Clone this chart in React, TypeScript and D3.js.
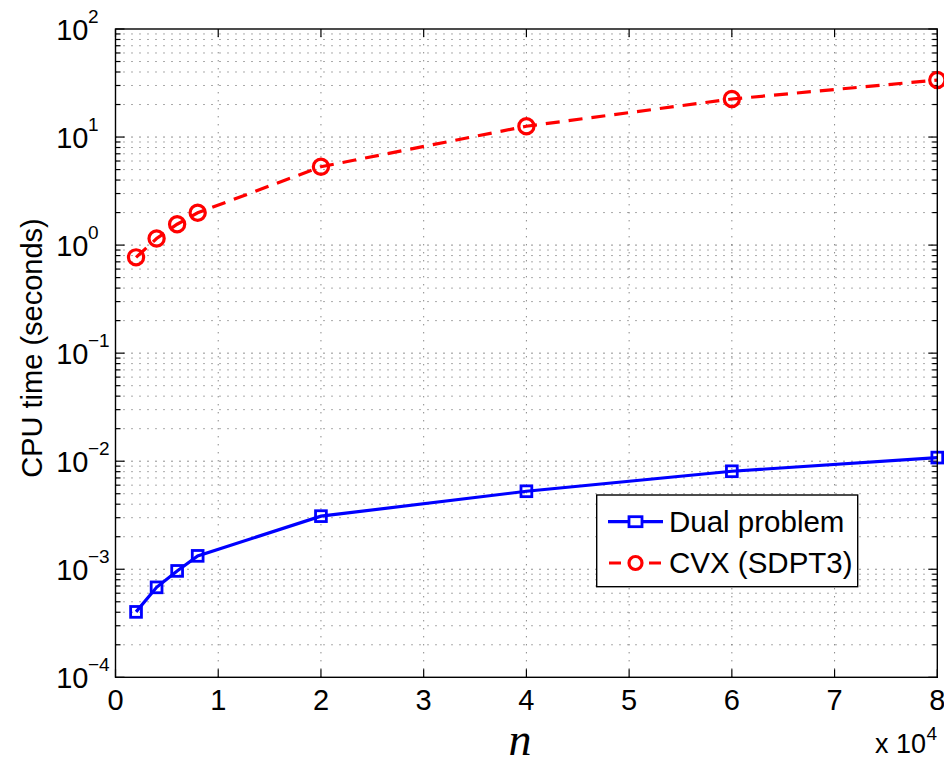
import React from "react";
import * as d3 from "d3";

const nValues = [0.2, 0.4, 0.6, 0.8, 2, 4, 6, 8];
const dualTimes = [4.03e-4, 6.8e-4, 9.65e-4, 1.33e-3, 3.1e-3, 5.27e-3, 8.07e-3, 1.08e-2];
const cvxTimes = [0.77, 1.15, 1.56, 1.99, 5.31, 12.6, 22.5, 33.7];
const xTicks = [0, 1, 2, 3, 4, 5, 6, 7, 8];
const yDecades = [-4, -3, -2, -1, 0, 1, 2];
const seriesNames = ["Dual problem", "CVX (SDPT3)"];

const W = 944, H = 765;
const L = 115.5, R = 937.3, T = 29, B = 677.3;
const FONT = "'Liberation Sans', Arial, Helvetica, sans-serif";
const FS = 29;
const EXP = 19;

function Txt({ x, y, size, anchor = "start", children }: any) {
  return (
    <text x={x} y={y} fontSize={size} textAnchor={anchor} fontFamily={FONT} fill="#000">
      {children}
    </text>
  );
}

export default function App() {
  const x = d3.scaleLinear().domain([0, 8]).range([L, R]);
  const y = d3.scaleLog().domain([1e-4, 1e2]).range([B, T]);

  const minorVals: number[] = [];
  for (let e = -4; e < 2; e++) for (let m = 2; m <= 9; m++) minorVals.push(m * Math.pow(10, e));

  const line = d3.line<number>().x((_, i) => x(nValues[i])).y((v) => y(v));
  const dualPts = dualTimes.map((v, i) => [x(nValues[i]), y(v)]);
  const cvxPts = cvxTimes.map((v, i) => [x(nValues[i]), y(v)]);

  const dot = "1 7";

  const legX = 596.7, legY = 495, legW = 261, legH = 91.7;
  const ly1 = 521.7, ly2 = 563;

  return (
    <svg width={W} height={H} style={{ position: "absolute", left: 0, top: 0, background: "#fff" }}>
      <rect x={0} y={0} width={W} height={H} fill="#fff" />
      {/* grid */}
      <g strokeWidth={1} strokeDasharray={dot} fill="none">
        {xTicks.slice(1, -1).map((t) => (
          <line key={"vx" + t} x1={x(t)} x2={x(t)} y1={B} y2={T} stroke="#555" />
        ))}
        {yDecades.slice(1, -1).map((e) => (
          <line key={"hy" + e} x1={L} x2={R} y1={y(Math.pow(10, e))} y2={y(Math.pow(10, e))} stroke="#222" />
        ))}
        {minorVals.map((v) => (
          <line key={"mh" + v} x1={L} x2={R} y1={y(v)} y2={y(v)} stroke="#555" />
        ))}
      </g>
      {/* ticks */}
      <g stroke="#000" strokeWidth={1.2}>
        {xTicks.map((t) => (
          <g key={"tx" + t}>
            <line x1={x(t)} x2={x(t)} y1={B} y2={B - 8} />
            <line x1={x(t)} x2={x(t)} y1={T} y2={T + 8} />
          </g>
        ))}
        {yDecades.map((e) => (
          <g key={"ty" + e}>
            <line x1={L} x2={L + 9} y1={y(Math.pow(10, e))} y2={y(Math.pow(10, e))} />
            <line x1={R} x2={R - 9} y1={y(Math.pow(10, e))} y2={y(Math.pow(10, e))} />
          </g>
        ))}
        {minorVals.map((v) => (
          <g key={"tm" + v}>
            <line x1={L} x2={L + 5} y1={y(v)} y2={y(v)} />
            <line x1={R} x2={R - 5} y1={y(v)} y2={y(v)} />
          </g>
        ))}
      </g>
      {/* data */}
      <path d={line(cvxTimes) || ""} fill="none" stroke="#ff0000" strokeWidth={3.2} strokeDasharray="14 9" />
      <path d={line(dualTimes) || ""} fill="none" stroke="#0000ff" strokeWidth={3.2} />
      {cvxPts.map(([px, py], i) => (
        <circle key={"c" + i} cx={px} cy={py} r={7.6} fill="none" stroke="#ff0000" strokeWidth={3.2} />
      ))}
      {dualPts.map(([px, py], i) => (
        <rect key={"s" + i} x={px - 5.4} y={py - 5.4} width={10.8} height={10.8} fill="none" stroke="#0000ff" strokeWidth={2.8} />
      ))}
      {/* axes box */}
      <rect x={L} y={T} width={R - L} height={B - T} fill="none" stroke="#000" strokeWidth={1.4} />
      {/* x tick labels */}
      {xTicks.map((t) => (
        <Txt key={"lx" + t} x={x(t)} y={709.5} size={FS} anchor="middle">{String(t)}</Txt>
      ))}
      {/* y tick labels */}
      {yDecades.map((e) => {
        const py = y(Math.pow(10, e));
        return (
          <g key={"ly" + e}>
            <Txt x={88.5} y={py + 10.5} size={FS} anchor="end">10</Txt>
            <Txt x={88} y={py - 6.5} size={EXP} anchor="start">{e < 0 ? "\u2212" + Math.abs(e) : String(e)}</Txt>
          </g>
        );
      })}
      {/* y label */}
      <text transform="translate(42,348) rotate(-90)" fontSize={FS} textAnchor="middle" fontFamily={FONT}>
        CPU time (seconds)
      </text>
      {/* x label */}
      <text x={520} y={755} fontSize={46} fontStyle="italic" textAnchor="middle" fontFamily="'Liberation Serif', 'Times New Roman', serif">
        n
      </text>
      {/* exponent */}
      <Txt x={926} y={753} size={27} anchor="end">x 10</Txt>
      <Txt x={926.5} y={740} size={EXP} anchor="start">4</Txt>
      {/* legend */}
      <rect x={legX} y={legY} width={legW} height={legH} fill="#fff" stroke="#000" strokeWidth={1.4} />
      <line x1={608} x2={663} y1={ly1} y2={ly1} stroke="#0000ff" strokeWidth={3.2} />
      <rect x={635.5 - 6.5} y={ly1 - 5} width={13} height={10} fill="#fff" stroke="#0000ff" strokeWidth={2.8} />
      <line x1={608} x2={663} y1={ly2} y2={ly2} stroke="#ff0000" strokeWidth={3.2} strokeDasharray="12 8" strokeDashoffset={-1} />
      <circle cx={635.5} cy={ly2} r={6.5} fill="#fff" stroke="#ff0000" strokeWidth={3.2} />
      <Txt x={669} y={ly1 + 10} size={FS + 0.5} anchor="start">{seriesNames[0]}</Txt>
      <Txt x={669} y={ly2 + 10} size={FS + 0.5} anchor="start">{seriesNames[1]}</Txt>
    </svg>
  );
}
